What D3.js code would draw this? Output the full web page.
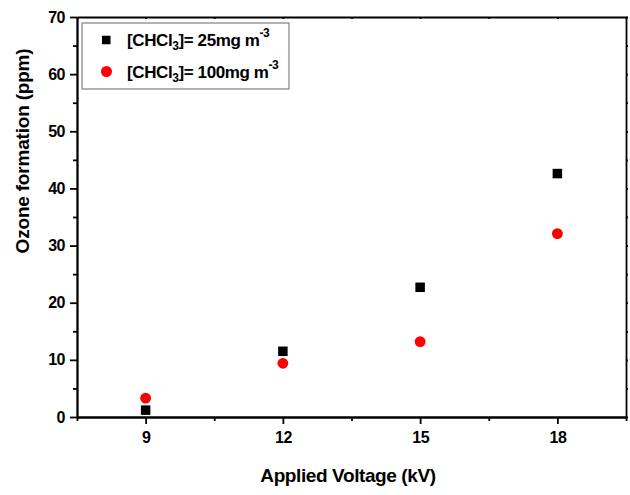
<!DOCTYPE html>
<style>
body { margin: 0; background: #fff; }
svg { font-family: "Liberation Sans", Arial, sans-serif; font-weight: bold; }
.axis .domain, .axis line { stroke: #000; stroke-width: 1.8; }
.axis text { font-size: 16px; font-weight: bold; fill: #000; font-family: "Liberation Sans", Arial, sans-serif; letter-spacing: -0.5px; }
</style>
<svg width="630" height="495"></svg>
<script src="https://d3js.org/d3.v7.min.js"></script>
<script>

var voltage = [9, 12, 15, 18];
var ozone25 = [1.2, 11.5, 22.7, 42.6];
var ozone100 = [3.3, 9.4, 13.2, 32.1];
var xTicks = [9, 12, 15, 18];
var xMinor = [7.5, 10.5, 13.5, 16.5, 19.5];
var yTicks = [0, 10, 20, 30, 40, 50, 60, 70];
var yMinor = [5, 15, 25, 35, 45, 55, 65];

var svg = d3.select("svg"),
    margin = {top: 17, right: 4, bottom: 78, left: 77},
    width = +svg.attr("width") - margin.left - margin.right,
    height = +svg.attr("height") - margin.top - margin.bottom,
    g = svg.append("g").attr("transform", "translate(" + margin.left + "," + margin.top + ")");

var x = d3.scaleLinear().domain([7.5, 19.5]).range([0, width]);
var y = d3.scaleLinear().domain([0, 70]).range([height, 0]);

// frame: top and right
g.append("g")
    .attr("class", "axis")
    .call(d3.axisTop(x).tickValues(xTicks.concat(xMinor)).tickSize(-2).tickSizeOuter(0).tickFormat(""));
g.append("g")
    .attr("class", "axis")
    .attr("transform", "translate(" + width + ",0)")
    .call(d3.axisRight(y).tickValues(yTicks.concat(yMinor)).tickSize(2).tickSizeOuter(0).tickFormat(""));

// minor ticks
g.append("g")
    .attr("class", "axis")
    .attr("transform", "translate(0," + height + ")")
    .call(d3.axisBottom(x).tickValues(xMinor).tickSize(4).tickSizeOuter(0).tickFormat(""));
g.append("g")
    .attr("class", "axis")
    .call(d3.axisLeft(y).tickValues(yMinor).tickSize(4).tickSizeOuter(0).tickFormat(""));

g.append("g")
    .attr("class", "axis")
    .attr("transform", "translate(0," + height + ")")
    .call(d3.axisBottom(x).tickValues(xTicks).tickSize(7).tickPadding(8).tickSizeOuter(0));

g.append("g")
    .attr("class", "axis")
    .call(d3.axisLeft(y).tickValues(yTicks).tickSize(7).tickPadding(5).tickSizeOuter(0));

// points
var s = 9.5;
g.append("g").selectAll("rect")
    .data(voltage)
    .enter().append("rect")
      .attr("x", function(d) { return x(d) - s / 2; })
      .attr("y", function(d, i) { return y(ozone25[i]) - s / 2; })
      .attr("width", s)
      .attr("height", s)
      .attr("fill", "#000");

g.append("g").selectAll("circle")
    .data(voltage)
    .enter().append("circle")
      .attr("cx", function(d) { return x(d); })
      .attr("cy", function(d, i) { return y(ozone100[i]); })
      .attr("r", 5.4)
      .attr("fill", "#ff0000");

// axis titles
svg.append("text")
    .attr("x", 348)
    .attr("y", 482)
    .attr("text-anchor", "middle")
    .attr("font-size", 19)
    .attr("letter-spacing", "-0.4px")
    .text("Applied Voltage (kV)");

svg.append("text")
    .attr("transform", "translate(28.5,151) rotate(-90)")
    .attr("text-anchor", "middle")
    .attr("font-size", 19)
    .attr("letter-spacing", "-0.2px")
    .text("Ozone formation (ppm)");

// legend
var legend = svg.append("g");
legend.append("rect")
    .attr("x", 82)
    .attr("y", 23)
    .attr("width", 207)
    .attr("height", 66)
    .attr("fill", "none")
    .attr("stroke", "#808080")
    .attr("stroke-width", 1.2);

var items = [
  {label: "25mg m", marker: "square", color: "#000"},
  {label: "100mg m", marker: "circle", color: "#ff0000"}
];

var row = legend.selectAll("g.item")
    .data(items)
    .enter().append("g")
      .attr("class", "item")
      .attr("transform", function(d, i) { return "translate(0," + (40 + i * 31.5) + ")"; });

row.filter(function(d) { return d.marker == "square"; }).append("rect")
    .attr("x", 102).attr("y", -4.25).attr("width", 8.5).attr("height", 8.5)
    .attr("fill", function(d) { return d.color; });
row.filter(function(d) { return d.marker == "circle"; }).append("circle")
    .attr("cx", 106.5).attr("cy", 0).attr("r", 5.5)
    .attr("fill", function(d) { return d.color; });

var t = row.append("text")
    .attr("x", 127)
    .attr("y", 6)
    .attr("font-size", 17)
    .attr("letter-spacing", "-0.4px");
t.append("tspan").text("[CHCl");
t.append("tspan").attr("dy", 4).attr("font-size", 12).text("3");
t.append("tspan").attr("dy", -4).text(function(d) { return "]= " + d.label; });
t.append("tspan").attr("dy", -9).attr("font-size", 12).text("-3");

</script>
